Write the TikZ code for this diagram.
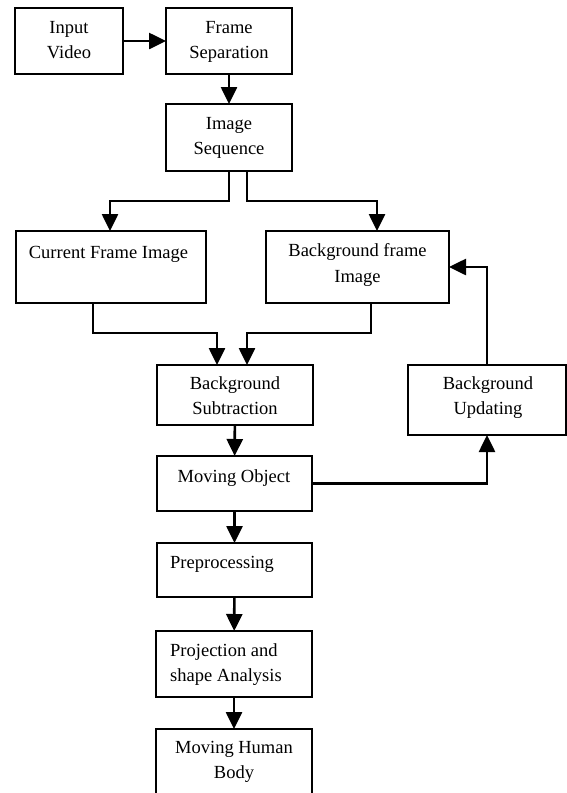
\documentclass[tikz,border=0pt]{standalone}
\usepackage{fontspec}
\setmainfont{Liberation Serif}
\usetikzlibrary{arrows.meta,calc}
\begin{document}
\begin{tikzpicture}[x=1pt,y=-1pt,
  box/.style={draw=black,line width=2.7pt,rectangle,inner sep=0pt,outer sep=0pt},
  txt/.style={anchor=base,inner sep=0pt,font=\fontsize{18.5}{25}\selectfont},
  ltxt/.style={anchor=base west,inner sep=0pt,font=\fontsize{18.5}{25}\selectfont},
  arr/.style={draw=black,line width=2.6pt,-{Triangle[width=16pt 0 0,length=17pt 0 0]}},
  lin/.style={draw=black,line width=2.6pt}]
\useasboundingbox (0,0) rectangle (566,793);
\fill[white] (0,0) rectangle (566,793);
% boxes
\node[box,minimum width=108pt,minimum height=66pt] (iv) at (69,41) {};
\node[box,minimum width=126pt,minimum height=66pt] (fs) at (229,41) {};
\node[box,minimum width=126pt,minimum height=67pt] (is) at (229,137.5) {};
\node[box,minimum width=190pt,minimum height=72pt] (cfi) at (111,267) {};
\node[box,minimum width=183pt,minimum height=72pt] (bfi) at (357.5,267) {};
\node[box,minimum width=156pt,minimum height=60pt] (bs) at (235,395) {};
\node[box,minimum width=158pt,minimum height=70pt] (bu) at (487,400) {};
\node[box,minimum width=155pt,minimum height=55pt] (mo) at (234.5,483.5) {};
\node[box,minimum width=155pt,minimum height=54pt] (pre) at (234.5,570) {};
\node[box,minimum width=156pt,minimum height=66pt] (pa) at (234,664) {};
\node[box,minimum width=156pt,minimum height=72pt] (mhb) at (234,765) {};
% texts
\node[txt] (t1) at (69,33) {Input};
\node[txt] (t2) at (69,58) {Video};
\node[txt] (t3) at (229,33) {Frame};
\node[txt] (t4) at (229,58) {Separation};
\node[txt] (t5) at (229,129) {Image};
\node[txt] (t6) at (229,154) {Sequence};
\node[txt] (t7) at (108.5,258) {Current Frame Image};
\node[txt] (t8) at (357.5,256) {Background frame};
\node[txt] (t9) at (357.5,282) {Image};
\node[txt] (t10) at (235,389) {Background};
\node[txt] (t11) at (235,414) {Subtraction};
\node[txt] (t12) at (488,389) {Background};
\node[txt] (t13) at (488,414) {Updating};
\node[txt] (t14) at (234,482) {Moving Object};
\node[ltxt] (t15) at (170,568) {Preprocessing};
\node[ltxt] (t16) at (170,656) {Projection and};
\node[ltxt] (t17) at (170,681) {shape Analysis};
\node[txt] (t18) at (234,753) {Moving Human};
\node[txt] (t19) at (234,778) {Body};
% connectors
\draw[arr] (iv) -- (fs);
\draw[arr] (fs) -- (is);
\draw[arr] (is.south) -- ++(0,30) -| ([xshift=-1pt]cfi.north);
\draw[arr] ([xshift=18pt]is.south) -- ++(0,30) -| ([xshift=19.5pt]bfi.north);
\draw[arr] ([xshift=-18pt]cfi.south) -- ++(0,30) -| ([xshift=-18pt]bs.north);
\draw[arr] ([xshift=13.5pt]bfi.south) -- ++(0,30) -| ([xshift=12pt]bs.north);
\draw[arr] (bs) -- (mo);
\draw[arr] (mo.east) -| (bu.south);
\draw[arr] (bu.north) |- (bfi.east);
\draw[arr] (mo) -- (pre);
\draw[arr] (pre) -- (pa);
\draw[arr] (pa) -- (mhb);
\end{tikzpicture}
\end{document}
